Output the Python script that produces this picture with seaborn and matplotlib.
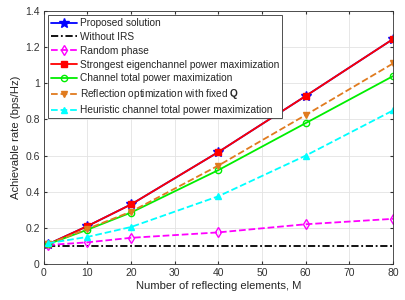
import pandas as pd
import seaborn as sns
import matplotlib.pyplot as plt

# Datos
M = [1, 10, 20, 40, 60, 80]
propuesta = [0.11, 0.21, 0.33, 0.62, 0.93, 1.245]
sin_irs = [0.1, 0.1, 0.1, 0.1, 0.1, 0.1]
fase_aleatoria = [0.105, 0.12, 0.145, 0.175, 0.22, 0.25]
eigencanal = [0.11, 0.21, 0.33, 0.62, 0.93, 1.245]
potencia_total = [0.11, 0.19, 0.285, 0.52, 0.78, 1.04]
q_fija = [0.11, 0.195, 0.29, 0.545, 0.825, 1.11]
heuristica = [0.115, 0.15, 0.205, 0.375, 0.60, 0.85]

series = [
    ('Proposed solution', propuesta, 'blue', '-', '*', 7),
    ('Without IRS', sin_irs, 'black', (0, (4, 1.5, 1, 1.5)), None, 0),
    ('Random phase', fase_aleatoria, '#FF00FF', '--', 'd', 5),
    ('Strongest eigenchannel power maximization', eigencanal, 'red', '-', 's', 4.5),
    ('Channel total power maximization', potencia_total, '#00EE00', '-', 'o', 4.5),
    (r'Reflection optimization with fixed $\mathbf{Q}$', q_fija, '#E07B1F', '--', 'v', 5),
    ('Heuristic channel total power maximization', heuristica, '#00FFFF', '--', '^', 5),
]

sns.set_style('whitegrid')
plt.rcParams['font.family'] = ['Liberation Sans', 'DejaVu Sans']
plt.rcParams['mathtext.fontset'] = 'custom'
plt.rcParams['mathtext.bf'] = 'Liberation Sans:bold'

fig, ax = plt.subplots(figsize=(4.06, 3.0), dpi=100)
fig.subplots_adjust(left=0.108, right=0.968, top=0.963, bottom=0.12)

for nombre, valores, color, estilo, marcador, tam in series:
    df = pd.DataFrame({'M': M, 'rate': valores})
    sns.lineplot(data=df, x='M', y='rate', ax=ax, color=color, linestyle=estilo,
                 marker=marcador, markersize=tam, markerfacecolor='none' if marcador in ('d', 'o') else color,
                 markeredgecolor=color, markeredgewidth=1, linewidth=1.3, label=nombre)

ax.set_xlim(0, 80)
ax.set_ylim(0, 1.4)
ax.set_xticks(range(0, 81, 10))
ax.set_yticks([0, 0.2, 0.4, 0.6, 0.8, 1, 1.2, 1.4])
ax.set_yticklabels(['0', '0.2', '0.4', '0.6', '0.8', '1', '1.2', '1.4'])
ax.set_xlabel('Number of reflecting elements, M', fontsize=8.1, labelpad=2)
ax.set_ylabel('Achievable rate (bps/Hz)', fontsize=8.1, labelpad=3)
ax.tick_params(labelsize=7.5, direction='in', length=2.5, pad=3, colors='#333333',
               top=True, right=True, bottom=True, left=True)
ax.grid(True, color='#E3E3E3', linewidth=0.6)
for s in ax.spines.values():
    s.set_color('#333333')
    s.set_linewidth(0.6)

leg = ax.legend(loc='upper left', fontsize=7.25, frameon=True, fancybox=False,
                edgecolor='#333333', framealpha=1, handlelength=2.6, handletextpad=0.3,
                labelspacing=0.38, borderpad=0.3, borderaxespad=0.4)
leg.get_frame().set_linewidth(0.6)

plt.savefig('out.png', dpi=100)
